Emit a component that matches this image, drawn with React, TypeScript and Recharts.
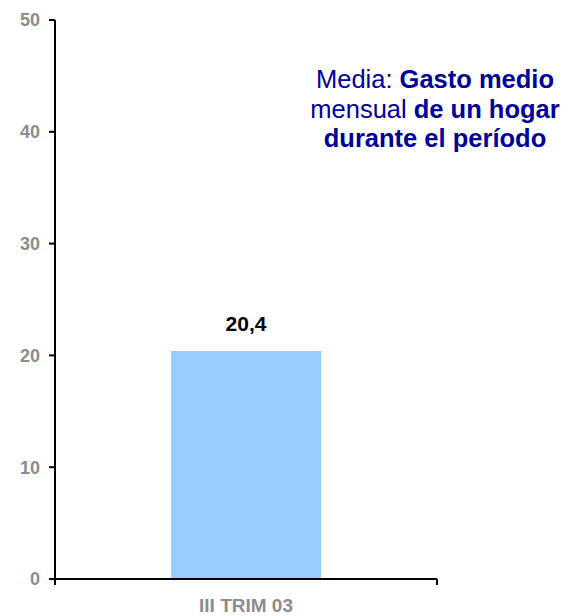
import React from "react";
import {
  BarChart,
  Bar,
  XAxis,
  YAxis,
  LabelList,
} from "recharts";

// Datos
const periods = ["III TRIM 03"];
const gastoMedio = [20.4];
const yTicks = [0, 10, 20, 30, 40, 50];

const chartData = periods.map((p, i) => ({ periodo: p, gasto: gastoMedio[i] }));

const GREY = "#8c8c8c";
const NAVY = "#000099";
const TICK_SIZE = 6;
const TICK_MARGIN = 27;

// etiqueta de categoría + marcas en los bordes de la banda (como en el original)
const CategoryTick = (props: any) => {
  const { x, y, payload } = props;
  const axisY = y - TICK_SIZE - TICK_MARGIN;
  const half = payload.offset || 0;
  return (
    <g>
      <line x1={x - half} x2={x - half} y1={axisY} y2={axisY + TICK_SIZE} stroke="#000" strokeWidth={2} />
      <line x1={x + half} x2={x + half} y1={axisY} y2={axisY + TICK_SIZE} stroke="#000" strokeWidth={2} />
      <text x={x} y={y} textAnchor="middle" fill={GREY} fontSize={19} fontWeight={700}>
        {payload.value}
      </text>
    </g>
  );
};

export default function App() {
  return (
    <div
      style={{
        position: "absolute",
        left: 0,
        top: 0,
        width: 569,
        height: 616,
        background: "#fff",
        fontFamily: "'Liberation Sans', Arial, sans-serif",
      }}
    >
      <BarChart
        width={569}
        height={616}
        data={chartData}
        margin={{ top: 20, right: 132, bottom: 0, left: 0 }}
        barSize={150}
      >
        <XAxis
          dataKey="periodo"
          axisLine={{ stroke: "#000", strokeWidth: 2 }}
          tickLine={false}
          height={37}
          tickSize={TICK_SIZE}
          tickMargin={TICK_MARGIN}
          tick={<CategoryTick />}
        />
        <YAxis
          width={55}
          domain={[0, 50]}
          ticks={yTicks}
          interval={0}
          axisLine={{ stroke: "#000", strokeWidth: 2 }}
          tickLine={{ stroke: "#000", strokeWidth: 2 }}
          tickSize={6}
          tickMargin={9}
          tick={{ fill: GREY, fontSize: 18, fontWeight: 700 }}
        />
        <Bar dataKey="gasto" fill="#99ccff" isAnimationActive={false}>
          <LabelList
            dataKey="gasto"
            position="top"
            offset={20}
            formatter={(v: any) => String(v).replace(".", ",")}
            style={{ fill: "#000", fontSize: 21, fontWeight: 700 }}
          />
        </Bar>
      </BarChart>
      <div
        style={{
          position: "absolute",
          left: 285,
          top: 65,
          width: 300,
          textAlign: "center",
          color: NAVY,
          fontSize: 25.5,
          lineHeight: "29.5px",
        }}
      >
        Media: <b>Gasto medio</b>
        <br />
        mensual <b>de un hogar</b>
        <br />
        <b>durante el período</b>
      </div>
    </div>
  );
}
